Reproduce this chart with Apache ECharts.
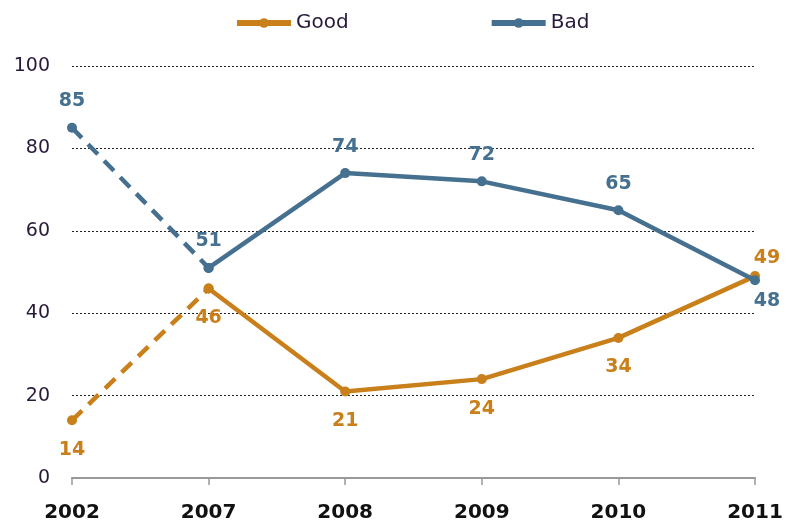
<!DOCTYPE html>
<html><head><meta charset="utf-8">
<script src="https://cdn.jsdelivr.net/npm/echarts@6/dist/echarts.min.js"></script>
<style>html,body{margin:0;padding:0;background:#fff}#c{width:786px;height:529px}</style>
</head><body><div id="c"></div>
<script>
const years = ['2002','2007','2008','2009','2010','2011'];
const good = [14, 46, 21, 24, 34, 49];
const bad = [85, 51, 74, 72, 65, 48];
const yTicks = [0, 20, 40, 60, 80, 100];

const GOOD_C = '#C97F1A';
const BAD_C = '#46708F';
const FONT = 'DejaVu Sans';

function solidData(arr, lastLabel) {
  return arr.map((v, i) => {
    if (i === 0) return '-';
    if (i === arr.length - 1) return { value: v, label: lastLabel };
    return v;
  });
}
function dashData(arr) {
  return arr.map((v, i) => {
    if (i === 0) return v;
    if (i === 1) return { value: v, label: { show: false } };
    return '-';
  });
}

const chart = echarts.init(document.getElementById('c'), null, { renderer: 'canvas' });
const baseLabel = (color, pos, dist) => ({
  show: true, position: pos, distance: dist, color: color,
  fontFamily: FONT, fontWeight: 'bold', fontSize: 19
});

chart.setOption({
  animation: false,
  legend: {
    data: ['Good', 'Bad'],
    top: 8, left: 229,
    itemGap: 140, itemWidth: 54, itemHeight: 12,
    textStyle: { fontFamily: FONT, fontSize: 20, color: '#2a1a3a' },
    lineStyle: { type: 'solid', width: 6 },
    itemStyle: { borderWidth: 0 }
  },
  grid: { left: 72, right: 31, top: 66, bottom: 51 },
  xAxis: {
    type: 'category', data: years, boundaryGap: false,
    axisLine: { lineStyle: { color: '#999', width: 2 } },
    axisTick: { show: true, length: 7, lineStyle: { color: '#999', width: 1.5 } },
    axisLabel: { fontFamily: FONT, fontWeight: 'bold', fontSize: 20, color: '#111', margin: 25 },
    splitLine: { show: false }
  },
  yAxis: {
    type: 'value', min: 0, max: 100, interval: 20,
    axisLine: { show: false }, axisTick: { show: false },
    axisLabel: { fontFamily: FONT, fontSize: 19, color: '#2a1a3a', margin: 22 },
    splitLine: { lineStyle: { type: [2, 2], color: '#222', width: 1 } }
  },
  series: [
    {
      name: 'Good', type: 'line', data: solidData(good, { position: 'top', offset: [12, 4], distance: 8 }),
      color: GOOD_C, lineStyle: { width: 4.5, color: GOOD_C }, symbol: 'circle', symbolSize: 10,
      itemStyle: { color: GOOD_C }, label: baseLabel(GOOD_C, 'bottom', 15), z: 3
    },
    {
      name: 'Bad', type: 'line', data: solidData(bad, { position: 'bottom', offset: [12, -2], distance: 8 }),
      color: BAD_C, lineStyle: { width: 4.5, color: BAD_C }, symbol: 'circle', symbolSize: 10,
      itemStyle: { color: BAD_C }, label: baseLabel(BAD_C, 'top', 12), z: 4
    },
    {
      name: 'Good', type: 'line', data: dashData(good),
      lineStyle: { width: 4.5, color: GOOD_C, type: [14, 9] }, symbol: 'circle', symbolSize: 10,
      itemStyle: { color: GOOD_C }, label: baseLabel(GOOD_C, 'bottom', 15), z: 3
    },
    {
      name: 'Bad', type: 'line', data: dashData(bad),
      lineStyle: { width: 4.5, color: BAD_C, type: [14, 9] }, symbol: 'circle', symbolSize: 10,
      itemStyle: { color: BAD_C }, label: baseLabel(BAD_C, 'top', 12), z: 4
    }
  ]
});
</script></body></html>
